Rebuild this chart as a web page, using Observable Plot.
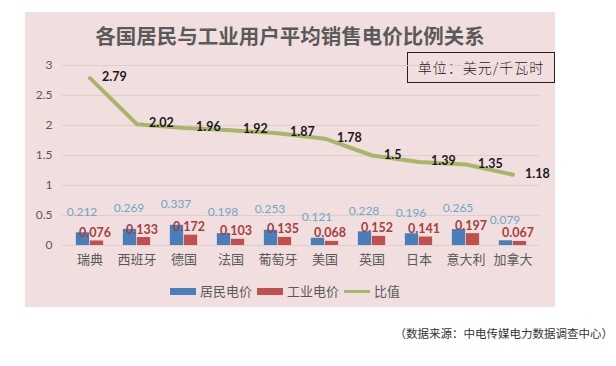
<!DOCTYPE html>
<html>
<head>
<meta charset="utf-8">
<script src="https://cdn.jsdelivr.net/npm/d3@7"></script>
<script src="https://cdn.jsdelivr.net/npm/@observablehq/plot@0.6"></script>
<style>
  html, body { margin: 0; padding: 0; background: #fff; }
  #page { position: relative; width: 616px; height: 366px; overflow: hidden; font-family: "Noto Sans CJK SC", "Noto Sans", sans-serif; }
  #panel { position: absolute; left: 25px; top: 12px; width: 530px; height: 295px; background: #f1dfdf; }
  #title { position: absolute; left: 25px; width: 530px; top: 20px; text-align: center; font-size: 20.5px; font-weight: bold; color: #5a5a5a; line-height: 30px; }
  #unit { position: absolute; left: 407px; top: 52px; width: 146px; height: 29px; border: 1px solid #222; font-size: 14px; color: #222; text-align: center; line-height: 29px; font-weight: 300; letter-spacing: 1px; }
  #chart { position: absolute; left: 0; top: 0; }
  #legend { position: absolute; top: 281px; left: 170px; font-size: 13px; color: #595959; line-height: 18px; white-space: nowrap; }
  #legend span.sw { display: inline-block; vertical-align: middle; }
  #legend span.lb { vertical-align: middle; margin-left: 4px; margin-right: 5px; }
  #source { position: absolute; right: 3px; top: 324px; font-size: 11.5px; color: #333; white-space: nowrap; line-height: 18px; }
</style>
</head>
<body>
<div id="page">
  <div id="panel"></div>
  <div id="title"></div>
  <div id="unit"></div>
  <div id="chart"></div>
  <div id="legend"></div>
  <div id="source"></div>
</div>
<script>
const titleText = "各国居民与工业用户平均销售电价比例关系";
const unitText = "单位：美元/千瓦时";
const sourceText = "（数据来源：中电传媒电力数据调查中心）";
const seriesNames = ["居民电价", "工业电价", "比值"];
const seriesColors = ["#4a7ebb", "#c0504d", "#a9b66a"];
const countries = ["瑞典", "西班牙", "德国", "法国", "葡萄牙", "美国", "英国", "日本", "意大利", "加拿大"];
const residential = [0.212, 0.269, 0.337, 0.198, 0.253, 0.121, 0.228, 0.196, 0.265, 0.079];
const industrial = [0.076, 0.133, 0.172, 0.103, 0.135, 0.068, 0.152, 0.141, 0.197, 0.067];
const ratio = [2.79, 2.02, 1.96, 1.92, 1.87, 1.78, 1.5, 1.39, 1.35, 1.18];
const yTicks = [0, 0.5, 1, 1.5, 2, 2.5, 3];

document.getElementById("title").textContent = titleText;
document.getElementById("unit").textContent = unitText;
document.getElementById("source").textContent = sourceText;

const rows = countries.map((c, i) => ({country: c, res: residential[i], ind: industrial[i], ratio: ratio[i]}));

const chart = Plot.plot({
  width: 616,
  height: 275,
  marginLeft: 62,
  marginRight: 77,
  marginTop: 65,
  marginBottom: 30,
  style: {background: "transparent", fontFamily: "'Noto Sans CJK SC', sans-serif"},
  x: {domain: countries, padding: 0, label: null},
  y: {domain: [0, 3], label: null},
  marks: [
    Plot.gridY(yTicks, {stroke: "#e2cdcd", strokeOpacity: 1}),
    Plot.axisY(yTicks, {tickSize: 0, tickPadding: 10, fontSize: 12, fill: "#595959", fontFamily: "Lato, 'Open Sans', sans-serif", label: null, tickFormat: d => String(d)}),
    Plot.axisX({tickSize: 0, tickPadding: 9, fontSize: 13, fill: "#595959", label: null}),
    Plot.barY(rows, {x: "country", y: "res", fill: seriesColors[0], insetLeft: 16.85, insetRight: 16.85, dx: -7}),
    Plot.barY(rows, {x: "country", y: "ind", fill: seriesColors[1], insetLeft: 16.85, insetRight: 16.85, dx: 7}),
    Plot.lineY(rows, {x: "country", y: "ratio", stroke: seriesColors[2], strokeWidth: 4}),
    Plot.text(rows, {x: "country", y: "ratio", text: d => String(d.ratio), dx: 12, dy: -1, textAnchor: "start", fontSize: 12.5, fontWeight: "bold", fill: "#1a1a1a", fontFamily: "Lato, 'Open Sans', sans-serif"}),
    Plot.text(rows, {x: "country", y: "res", text: d => String(d.res), dx: -8, dy: -21, fontSize: 12, fill: "#6fa6c6", fontFamily: "Lato, 'Open Sans', sans-serif"}),
    Plot.text(rows, {x: "country", y: "ind", text: d => String(d.ind), dx: 5, dy: -8, fontSize: 12.5, fontWeight: "bold", fill: "#a6403d", fontFamily: "Lato, 'Open Sans', sans-serif"})
  ]
});
document.getElementById("chart").appendChild(chart);

const legend = document.getElementById("legend");
seriesNames.forEach((name, i) => {
  const sw = document.createElement("span");
  sw.className = "sw";
  sw.style.width = "26px";
  sw.style.height = i < 2 ? "7px" : "3px";
  sw.style.background = seriesColors[i];
  const lb = document.createElement("span");
  lb.className = "lb";
  lb.textContent = name;
  legend.appendChild(sw);
  legend.appendChild(lb);
});
</script>
</body>
</html>
